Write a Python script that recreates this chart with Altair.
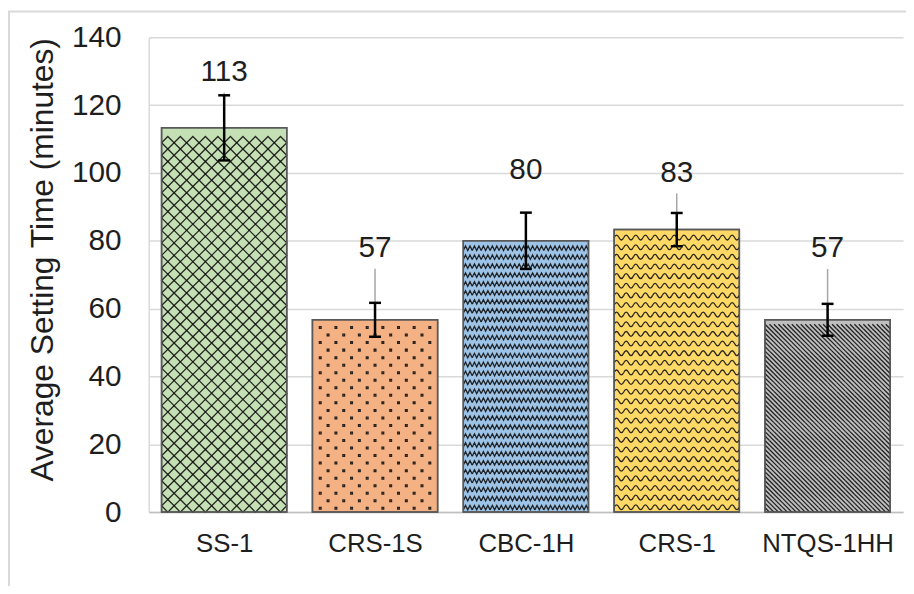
import json
import altair as alt
import pandas as pd

# ---------------- data ----------------
categories = ["SS-1", "CRS-1S", "CBC-1H", "CRS-1", "NTQS-1HH"]
values = [113.3, 56.7, 80.0, 83.3, 56.7]
errors = [9.6, 5.0, 8.3, 4.9, 4.7]
labels = ["113", "57", "80", "83", "57"]
label_y = [129.8, 77.9, 100.9, 100.1, 77.8]
has_leader = [True, True, False, True, True]
y_ticks = [0, 20, 40, 60, 80, 100, 120, 140]

# ---------------- styles ----------------
colors = ["#c5e0b4", "#f4b183", "#9dc3e6", "#ffd966", "#bfbfbf"]
W, H = 761, 479
YMAX = 140
UNIT = YMAX / H                      # data units per pixel
GAP = 0.17                           # gap between bars, fraction of a slot
N = len(categories)
BW = W / N * (1 - GAP)               # bar width in px
FONT = "Liberation Sans"
TEXT = "#1e1e1e"
GRID = "#d9d9d9"

patterns = {
    "SS-1": dict(path="M0,-1L1,0L0,1L-1,0Z", cw=12.6, ch=None, size=None, stagger=False),
    "CRS-1S": dict(path="M-1,-1L1,-1L1,1L-1,1Z", cw=15.8, ch=7.6, size=3, stagger=True),
    "CBC-1H": dict(path="M-1,0.5L-0.5,-0.5L0,0.5L0.5,-0.5L1,0.5", cw=9.0, ch=None, size=None, stagger=False),
    "CRS-1": dict(path="M-1,0Q-0.5,-1 0,0Q0.5,1 1,0", cw=9.7, ch=None, size=None, stagger=False),
    "NTQS-1HH": dict(path="M-1,-1L1,1M0,-1L1,0M-1,0L0,1", cw=9.0, ch=None, size=None, stagger=False),
}

idx = list(range(N))
bars = pd.DataFrame({
    "cat": categories,
    "mid": [i + 0.5 for i in idx],
    "x0": [i + GAP / 2 for i in idx],
    "x1": [i + 1 - GAP / 2 for i in idx],
    "value": values,
    "lo": [v - e for v, e in zip(values, errors)],
    "hi": [v + e for v, e in zip(values, errors)],
    "label": labels,
    "ly": label_y,
    "lead_top": [y - 21 * UNIT for y in label_y],
    "leader": has_leader,
})

prow = []
for i, (c, v) in enumerate(zip(categories, values)):
    p = patterns[c]
    ncols = max(1, round(BW / p["cw"]))
    cw = BW / ncols
    ch = p["ch"] if p["ch"] else cw
    size = p["size"] if p["size"] else cw * cw
    prow.append(dict(cat=c, x0=i + GAP / 2, value=v, ncols=ncols, step=ch * UNIT,
                     path=p["path"], psize=size, stagger=p["stagger"]))
pdf = pd.DataFrame(prow)

xscale = alt.Scale(domain=[0, N], nice=False, zero=False)
yscale = alt.Scale(domain=[0, YMAX], nice=False)

label_expr = json.dumps(categories).replace('"', "'") + "[floor(datum.value)]"
x_axis = alt.Axis(
    title=None, values=[i + 0.5 for i in idx], labelExpr=label_expr,
    labelAngle=0, labelFontSize=26, labelFont=FONT, labelColor=TEXT,
    labelPadding=19, ticks=False, domainColor="#bfbfbf", domainWidth=1.5, grid=False,
)
y_axis = alt.Axis(
    title="Average Setting Time (minutes)", titleFontSize=32, titleFont=FONT,
    titleFontWeight="normal", titleColor=TEXT, titlePadding=12, titleY=224,
    values=y_ticks, labelFontSize=30, labelFont=FONT, labelColor=TEXT,
    labelPadding=28, ticks=False, domainColor=GRID, domainWidth=1.5,
    grid=True, gridColor=GRID, gridWidth=1.5,
)


def X(field):
    return alt.X(field, type="quantitative", scale=xscale, axis=x_axis)


def Y(field):
    return alt.Y(field, type="quantitative", scale=yscale, axis=y_axis)


border = alt.Chart(pd.DataFrame({"a": [0]})).mark_rect(
    fillOpacity=0, stroke=GRID, strokeWidth=2
).encode(x=alt.value(-141), x2=alt.value(W + 40), y=alt.value(-26), y2=alt.value(H + 120))

bar = alt.Chart(bars).mark_bar(stroke="#595959", strokeWidth=1.5).encode(
    x=X("x0"), x2="x1", y=Y("value"), y2=alt.datum(0),
    color=alt.Color("cat:N", scale=alt.Scale(domain=categories, range=colors), legend=None),
)

pattern = (
    alt.Chart(pdf)
    .transform_calculate(rows="sequence(datum.step/2, datum.value - datum.step/2 + 0.001, datum.step)")
    .transform_flatten(["rows"])
    .transform_calculate(ri="round((datum.rows - datum.step/2)/datum.step)",
                         cols="sequence(0, datum.ncols)")
    .transform_flatten(["cols"])
    .transform_calculate(xo="(datum.cols + 0.5 + (datum.stagger ? (datum.ri % 2) * 0.5 : 0)) / datum.ncols")
    .transform_filter("datum.xo < 0.98")
    .transform_calculate(px=f"datum.x0 + datum.xo * {1 - GAP}")
    .mark_point(filled=False, strokeWidth=1.3, color="#111111", opacity=0.9)
    .encode(
        x=X("px"),
        y=Y("rows"),
        shape=alt.Shape("path:N", scale=None),
        size=alt.Size("psize:Q", scale=None),
    )
)

outline = alt.Chart(bars).mark_bar(fillOpacity=0, stroke="#595959", strokeWidth=1.5).encode(
    x=X("x0"), x2="x1", y=Y("value"), y2=alt.datum(0)
)

leader = alt.Chart(bars).transform_filter("datum.leader").mark_rule(
    color="#a6a6a6", strokeWidth=1.5
).encode(x=X("mid"), y=Y("lead_top"), y2="value")

err_rule = alt.Chart(bars).mark_rule(color="#000000", strokeWidth=2.5).encode(
    x=X("mid"), y=Y("lo"), y2="hi"
)

cap_l = alt.Chart(bars).transform_fold(["lo", "hi"], as_=["k", "v"]).transform_calculate(
    a=f"datum.mid - {6 / (W / N)}", b=f"datum.mid + {6 / (W / N)}"
).mark_rule(color="#000000", strokeWidth=2.5).encode(x=X("a"), x2="b", y=Y("v"))

text = alt.Chart(bars).mark_text(
    fontSize=30, font=FONT, color=TEXT, baseline="middle", align="center"
).encode(x=X("mid"), y=Y("ly"), text="label:N")

chart = (
    alt.layer(border, bar, pattern, outline, leader, err_rule, cap_l, text)
    .properties(
        width=W, height=H,
        autosize=alt.AutoSizeParams(type="none"),
        padding={"left": 142, "top": 27, "right": 3, "bottom": 72},
        background="white",
    )
    .configure_view(stroke=None)
)

chart.save("out.html", embed_options={"renderer": "svg", "actions": False})
